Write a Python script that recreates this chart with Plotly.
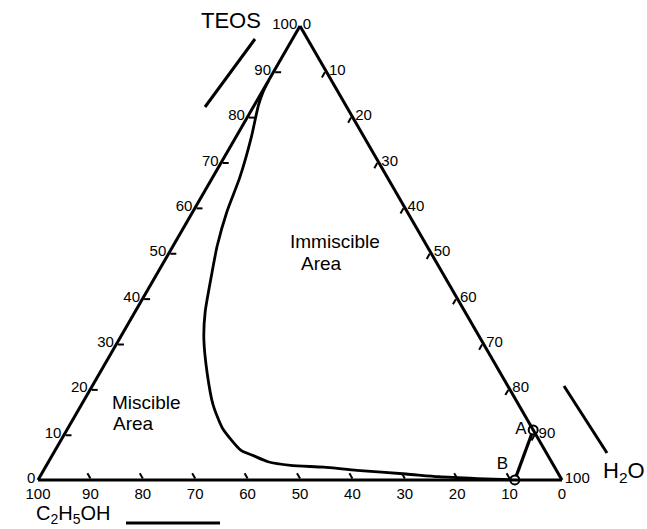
import plotly.graph_objects as go

# Binodal (miscibility) curve of the TEOS / C2H5OH / H2O system, in mol %
curve_teos = [88.0, 85.5, 82.5, 75.7, 66.6, 59.1, 51.6, 44.7, 37.0, 31.1, 23.4, 16.6,
              11.4, 6.5, 5.4, 4.0, 3.2, 2.8, 2.1, 1.3, 0.7, 0.3, 0.0]
curve_etoh = [12.0, 14.3, 16.7, 21.4, 28.2, 34.4, 40.0, 44.6, 49.6, 52.8, 56.0, 58.3,
              59.1, 58.0, 56.3, 54.1, 50.2, 44.1, 38.1, 29.1, 23.2, 16.0, 9.0]
curve_h2o = [0.0, 0.2, 0.8, 2.9, 5.2, 6.5, 8.4, 10.7, 13.4, 16.1, 20.6, 25.1,
             29.5, 35.5, 38.3, 41.9, 46.6, 53.1, 59.8, 69.6, 76.1, 83.7, 91.0]

# Compositions A and B
point_names = ["A", "B"]
point_teos = [11.0, 0.0]
point_etoh = [0.0, 9.0]
point_h2o = [89.0, 91.0]

FONT = "Liberation Sans, Arial, Helvetica, sans-serif"
W, H = 647, 529


def px(x):
    return x / W


def py(y):
    return 1 - y / H


fig = go.Figure()

fig.add_trace(go.Scatterternary(
    a=curve_teos, b=curve_etoh, c=curve_h2o,
    mode="lines", line=dict(color="black", width=2.8, shape="spline", smoothing=0.6),
    hoverinfo="skip", cliponaxis=False, showlegend=False,
))

# Line joining A and B
fig.add_trace(go.Scatterternary(
    a=point_teos, b=point_etoh, c=point_h2o,
    mode="lines", line=dict(color="black", width=3.2),
    hoverinfo="skip", cliponaxis=False, showlegend=False,
))

fig.add_trace(go.Scatterternary(
    a=point_teos, b=point_etoh, c=point_h2o,
    mode="markers+text", text=point_names, textposition=["middle left", "top left"],
    textfont=dict(family=FONT, size=17, color="black"),
    marker=dict(symbol="circle", size=9, color="white", line=dict(color="black", width=2)),
    hoverinfo="skip", cliponaxis=False, showlegend=False,
))

axis_common = dict(
    title=dict(text=""),
    tickmode="linear", tick0=0, dtick=10,
    ticks="inside", ticklen=6, tickwidth=2, tickcolor="black",
    tickfont=dict(family=FONT, size=15, color="black"),
    showline=True, linecolor="black", linewidth=3,
    showgrid=False, min=0,
)

fig.update_layout(
    width=W, height=H,
    margin=dict(l=0, r=0, t=0, b=0),
    paper_bgcolor="white",
    ternary=dict(
        sum=100,
        bgcolor="white",
        domain=dict(x=[px(38), px(562)], y=[py(480), py(26)]),
        aaxis=axis_common,
        baxis=axis_common,
        caxis=axis_common,
    ),
    font=dict(family=FONT, color="black"),
)

# Vertex names, region names and their guide strokes
texts = [
    ("TEOS", 231, 20, 22, "middle"),
    ("H<sub>2</sub>O", 624, 472, 22, "middle"),
    ("C<sub>2</sub>H<sub>5</sub>OH", 73, 529, 20, "bottom"),
    ("Immiscible", 335, 242, 19, "middle"),
    ("Area", 321, 263, 19, "middle"),
    ("Miscible", 146, 402, 19, "middle"),
    ("Area", 133, 423, 19, "middle"),
]
for t, x, y, s, ya in texts:
    fig.add_annotation(text=t, x=px(x), y=py(y), xref="paper", yref="paper",
                       showarrow=False, xanchor="center", yanchor=ya,
                       font=dict(family=FONT, size=s, color="black"))

strokes = [
    (205, 107, 255, 39),
    (564, 386, 607, 453),
    (126, 523, 220, 523),
]
for x0, y0, x1, y1 in strokes:
    fig.add_shape(type="line", xref="paper", yref="paper",
                  x0=px(x0), y0=py(y0), x1=px(x1), y1=py(y1),
                  line=dict(color="black", width=3))

fig.write_html("out.html")
